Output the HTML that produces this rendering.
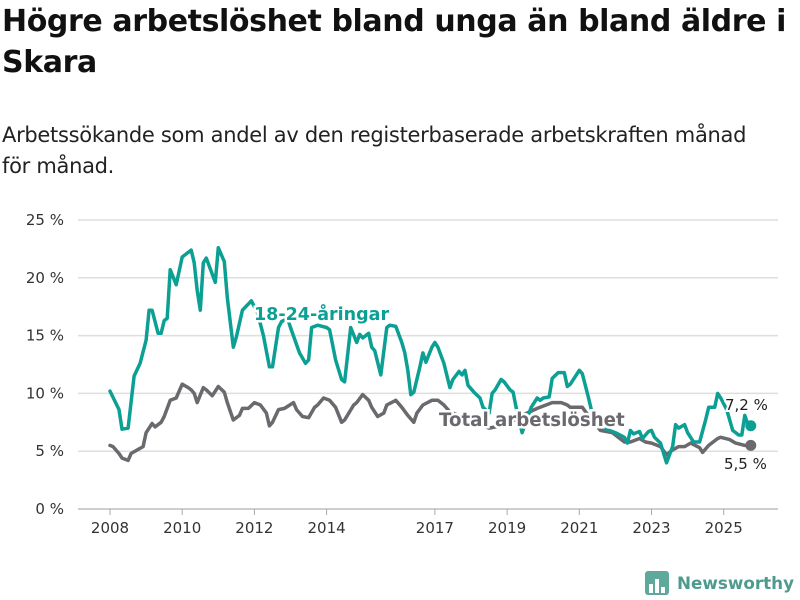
<!DOCTYPE html>
<html><head><meta charset="utf-8"><style>
body{margin:0;width:800px;height:600px;background:#fff;font-family:"Liberation Sans","DejaVu Sans",sans-serif;overflow:hidden;position:relative}
#title{position:absolute;left:2px;top:1px;font-size:30px;font-weight:bold;line-height:41px;color:#111;font-family:"DejaVu Sans","Liberation Sans",sans-serif;letter-spacing:-0.4px;width:796px}
#sub{position:absolute;left:2px;top:120px;font-size:21px;line-height:31px;color:#222;font-family:"DejaVu Sans","Liberation Sans",sans-serif;letter-spacing:-0.3px;width:798px;white-space:nowrap}
svg{position:absolute;left:0;top:0}
</style></head><body>
<div id="title">Högre arbetslöshet bland unga än bland äldre i Skara</div>
<div id="sub">Arbetssökande som andel av den registerbaserade arbetskraften månad<br>för månad.</div>
<svg id="chart" width="800" height="600"></svg>
<script>
const yTicks=[0,5,10,15,20,25];
const xTicks=[2008,2010,2012,2014,2017,2019,2021,2023,2025];
const youthMonths=[0,3,4,6,8,10,12,13,14,16,17,18,19,20,22,24,26,27,28,29,30,31,32,35,36,38,39,41,42,44,47,49,51,53,54,56,57,59,60,63,65,66,67,69,72,73,75,77,78,80,82,83,84,86,87,88,90,92,93,95,97,98,99,100,101,103,104,105,107,108,109,111,113,114,116,117,118,119,121,123,124,126,127,128,130,131,133,134,135,137,140,142,143,144,146,147,149,151,152,153,156,157,159,160,163,166,168,171,172,173,174,176,177,179,180,181,183,185,187,188,189,191,192,194,196,198,199,201,202,203,205,207,209,210,211,212,213];
const youthValues=[10.2,8.6,6.9,7.0,11.5,12.6,14.6,17.2,17.2,15.2,15.2,16.3,16.5,20.7,19.4,21.8,22.2,22.4,21.3,18.9,17.2,21.3,21.7,19.6,22.6,21.4,18.3,14.0,14.9,17.2,18.0,17.0,15.0,12.3,12.3,15.7,16.2,16.5,15.7,13.5,12.6,12.9,15.7,15.9,15.7,15.5,12.9,11.2,11.0,15.7,14.4,15.1,14.8,15.2,14.0,13.7,11.6,15.7,15.9,15.8,14.4,13.5,12.0,9.9,10.1,12.3,13.5,12.7,14.0,14.4,14.0,12.6,10.5,11.2,11.9,11.6,12.0,10.7,10.1,9.6,8.8,8.3,10.0,10.3,11.2,11.0,10.3,10.1,8.8,6.6,8.8,9.6,9.4,9.6,9.7,11.3,11.8,11.8,10.6,10.8,12.0,11.7,9.7,8.6,7.2,6.8,6.6,6.2,5.7,6.8,6.5,6.7,6.1,6.7,6.8,6.2,5.7,4.0,5.4,7.3,7.0,7.3,6.6,5.8,5.8,7.7,8.8,8.8,10.0,9.6,8.6,6.8,6.4,6.4,8.1,7.3,7.2];
const totalMonths=[0,1,3,4,6,7,9,11,12,14,15,17,18,20,22,24,26,27,28,29,31,32,34,36,38,39,41,43,44,46,48,50,52,53,54,56,58,61,62,64,66,68,69,71,73,75,77,78,81,82,84,86,87,89,91,92,95,97,99,101,102,104,107,109,111,113,120,126,132,137,142,147,150,152,153,157,159,163,167,169,171,173,176,178,180,183,185,187,189,191,193,196,197,199,202,203,206,208,211,213];
const totalValues=[5.5,5.4,4.8,4.4,4.2,4.8,5.1,5.4,6.6,7.4,7.1,7.5,8.0,9.4,9.6,10.8,10.5,10.3,10.0,9.2,10.5,10.3,9.8,10.6,10.1,9.2,7.7,8.1,8.7,8.7,9.2,9.0,8.3,7.2,7.5,8.6,8.7,9.2,8.6,8.0,7.9,8.8,9.0,9.6,9.4,8.8,7.5,7.7,9.0,9.2,9.9,9.4,8.8,8.0,8.3,9.0,9.4,8.8,8.1,7.5,8.3,9.0,9.4,9.4,9.0,8.4,7.7,7.0,7.3,8.1,8.7,9.2,9.2,9.0,8.8,8.8,8.1,6.8,6.6,6.2,5.8,5.8,6.1,5.8,5.7,5.4,4.7,5.1,5.4,5.4,5.7,5.3,4.9,5.5,6.1,6.2,6.0,5.7,5.5,5.5];
const youthLabel="18-24-åringar", totalLabel="Total arbetslöshet";
const youthEndLabel="7,2 %", totalEndLabel="5,5 %";

const NS="http://www.w3.org/2000/svg";
const svg=document.getElementById('chart');
const X0=78,X1=778,Y0=509,Y1=220;
const xs=yr=>110+(yr-2008)*36.1;
const ys=v=>Y0-(v/25)*(Y0-Y1);
const mYear=m=>2008+m/12;
function el(t,a,p){const e=document.createElementNS(NS,t);for(const k in a)e.setAttribute(k,a[k]);(p||svg).appendChild(e);return e;}
const gGrid=el('g',{});


yTicks.forEach(v=>{
  const l=el('line',{x1:X0,x2:X1,y1:ys(v),y2:ys(v),stroke:v===0?'#bdbdbd':'#dedede','stroke-width':1.5},gGrid);
  
  
  const t=el('text',{x:64,y:ys(v)+5,'text-anchor':'end','font-size':15,fill:'#333','font-family':'DejaVu Sans, Liberation Sans, sans-serif'},gGrid);
  t.textContent=v+' %';
  
  
});
xTicks.forEach(yr=>{
  const l=el('line',{x1:xs(yr),x2:xs(yr),y1:Y0,y2:Y0+6,stroke:'#aaa','stroke-width':1},gGrid);
  
  
  const t=el('text',{x:xs(yr),y:533,'text-anchor':'middle','font-size':15,fill:'#333','font-family':'DejaVu Sans, Liberation Sans, sans-serif'},gGrid);
  t.textContent=yr;
  
  
});
function line(months,vals,color,name){
  const d=months.map((m,i)=>(i?'L':'M')+xs(mYear(m)).toFixed(1)+','+ys(vals[i]).toFixed(1)).join('');
  const p=el('path',{d:d,fill:'none',stroke:color,'stroke-width':3.5,'stroke-linejoin':'round','stroke-linecap':'round'});
  
  
  const n=months.length-1;
  const c=el('circle',{cx:xs(mYear(months[n])),cy:ys(vals[n]),r:5.5,fill:color});
  
  
}
line(totalMonths,totalValues,'#6b686e','total-line');
line(youthMonths,youthValues,'#0c9f94','youth-line');
function label(txt,x,y,color,name,size,bold){
  const t=el('text',{x:x,y:y,'font-size':size,'font-weight':bold?'bold':'normal',fill:color,stroke:'#fff','stroke-width':bold?5:4,'paint-order':'stroke','font-family':'DejaVu Sans, Liberation Sans, sans-serif'});
  t.textContent=txt;
  
  
}
label(youthLabel,254,320,'#0c9f94','youth-series-label',17.5,true);
label(totalLabel,439,426,'#6b686e','total-series-label',18.2,true);
label(youthEndLabel,725,410,'#222','youth-end-value',15,false);
label(totalEndLabel,724,469,'#222','total-end-value',15,false);
const lg=el('g',{});


el('rect',{x:645,y:571,width:24,height:24,rx:3,fill:'#5fa89c'},lg);
[[649,584,4,9],[655,579,4,14],[661,587,4,6]].forEach(r=>el('rect',{x:r[0],y:r[1],width:r[2],height:r[3],fill:'#fff'},lg));
const lt=el('text',{x:677,y:589,'font-size':17,'font-weight':'bold',fill:'#4e9a8e','font-family':'DejaVu Sans, Liberation Sans, sans-serif',textLength:117,lengthAdjust:'spacingAndGlyphs'},lg);
lt.textContent='Newsworthy';
</script>
</body></html>
